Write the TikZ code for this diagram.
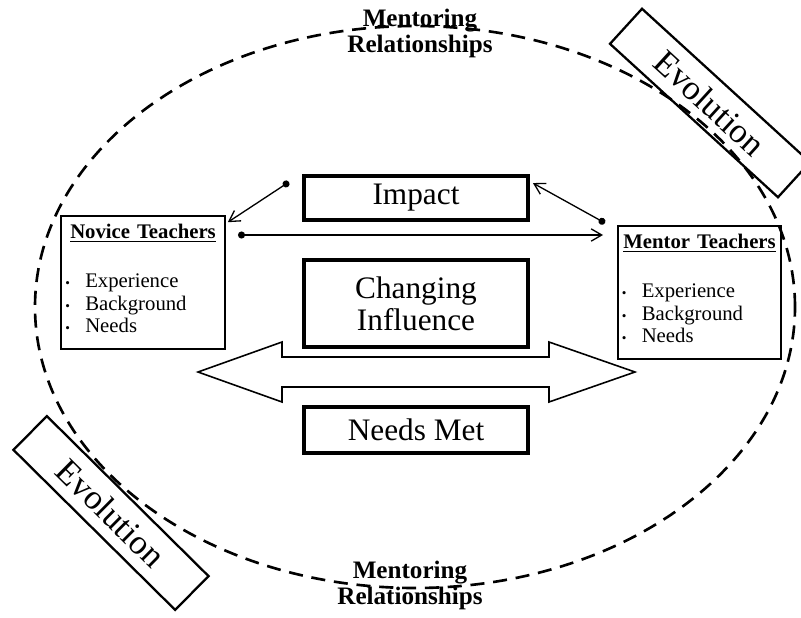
\documentclass[tikz,border=0pt]{standalone}
\usepackage{fontspec}
\setmainfont{Liberation Serif}
\usetikzlibrary{arrows.meta}

% small bullet in front of a list line
\newcommand{\listdot}{\makebox[0.48cm][l]{\hspace{0.08cm}{\fontsize{7.5}{7.5}\selectfont\textbullet}}}
% contents of a teacher box
\newcommand{\teachers}[1]{%
  \rule{0pt}{12.5pt}\makebox[\linewidth][c]{\textbf{\underline{#1}}}\\[14.8pt]
  \listdot Experience\\
  \listdot Background\\
  \listdot Needs\rule[-9pt]{0pt}{0pt}}

\tikzset{
  bigbox/.style={draw, line width=2.2pt, minimum width=4.48cm, inner sep=0pt,
    align=center, font=\fontsize{17.8}{18.2}\selectfont},
  teacherbox/.style={draw, line width=1.3pt, text width=3.27cm, inner sep=0pt,
    align=left, font=\fontsize{11.8}{13}\selectfont},
  evobox/.style={draw, line width=1.3pt, minimum width=4.55cm, minimum height=0.95cm,
    inner sep=0pt, font=\fontsize{19.8}{20}\selectfont},
  mentoring/.style={align=center, inner sep=0pt, font=\bfseries\fontsize{14.3}{14.6}\selectfont},
  link/.style={line width=0.75pt, {Circle[length=4pt]}-{Straight Barb[length=6pt,width=7pt]}},
  ring/.style={line width=1.5pt, dash pattern=on 8pt off 5pt},
}

\begin{document}
\begin{tikzpicture}
      \clip (0,0) rectangle (16.02,12.34);

      % Dashed ring of relationships
      \draw[ring] (8.30,6.20) ellipse [x radius=7.60, y radius=5.62];
      \node[mentoring] (mtop) at (8.40,11.67) {Mentoring\\Relationships};
      \node[mentoring] (mbot) at (8.20,0.63) {Mentoring\\Relationships};

      % Evolution tags on the ring
      \node[evobox, rotate=-42.4] (evotop) at (14.20,10.28) {Evolution};
      \node[evobox, rotate=-44.7] (evobot) at (2.22,2.08) {Evolution};

      % Teacher boxes
      \node[teacherbox] (novice) at (2.86,6.69) {\teachers{Novice Teachers}};
      \node[teacherbox] (mentor) at (13.99,6.49) {\teachers{Mentor Teachers}};

      % Middle boxes
      \node[bigbox, minimum height=0.88cm] (impact) at (8.32,8.38) {Impact};
      \node[bigbox, minimum height=1.74cm] (influence) at (8.32,6.27) {Changing\\Influence};
      \node[bigbox, minimum height=0.92cm] (needs) at (8.32,3.74) {Needs Met};

      % Two-way arrow between the teachers
      \draw[line width=0.9pt, line join=miter] (3.96,4.90) -- (5.64,5.50) -- (5.64,5.20)
        -- (10.98,5.20) -- (10.98,5.50) -- (12.70,4.90) -- (10.98,4.30) -- (10.98,4.60)
        -- (5.64,4.60) -- (5.64,4.30) -- cycle;

      % Links around Impact
      \coordinate (impL) at (5.78,8.70);
      \coordinate (menT) at (12.10,7.88);
      \coordinate (novR) at (4.76,7.64);
      \coordinate (menL) at (12.06,7.64);
      \draw[link] (impL) -- ([shift={(0.04,-0.14)}]novice.north east);
      \draw[link] (menT) -- ([shift={(0.06,-0.18)}]impact.north east);
      \draw[link] (novR) -- (menL);
\end{tikzpicture}
\end{document}
